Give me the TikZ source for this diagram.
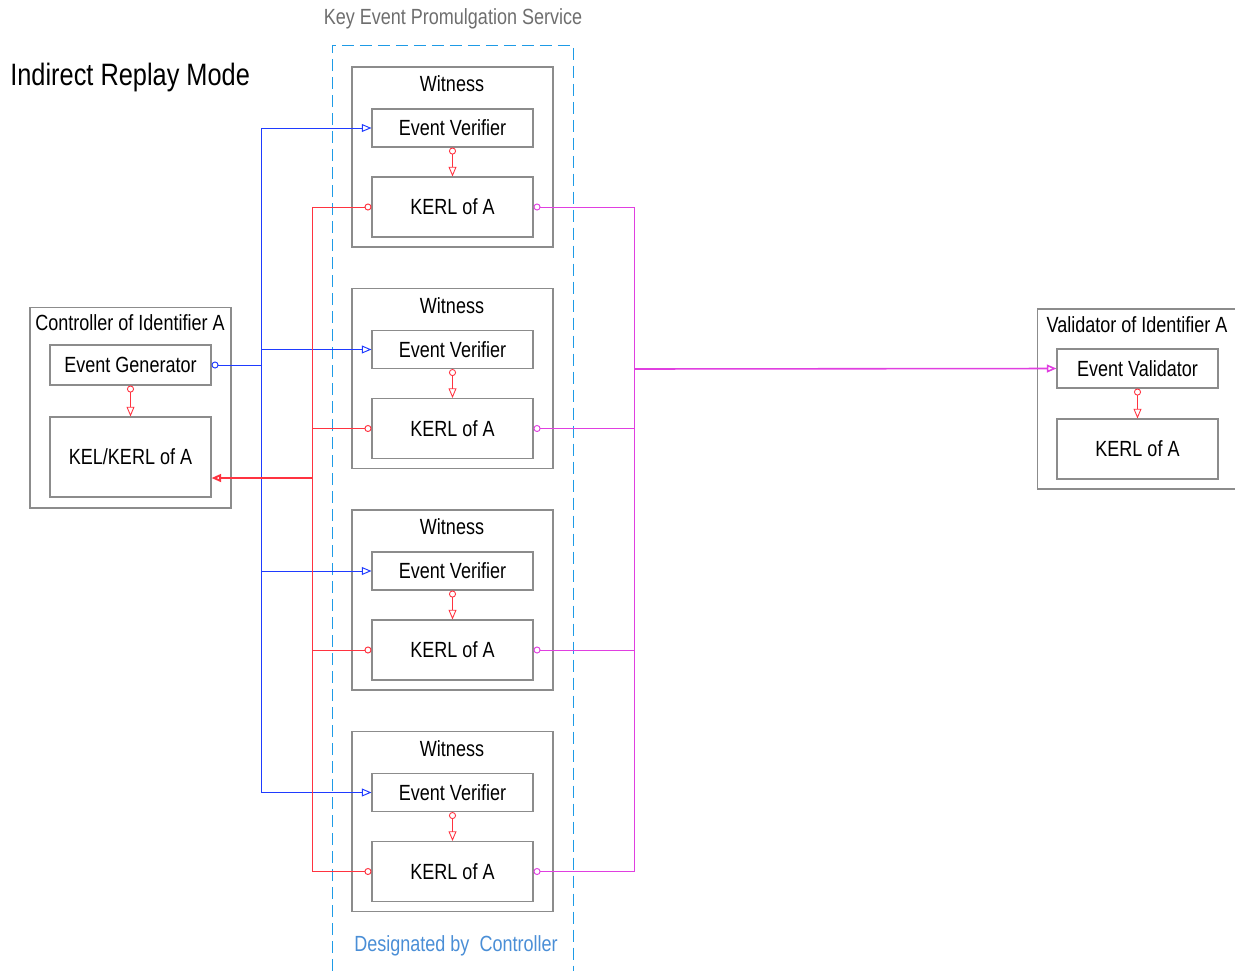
\documentclass[tikz,border=0pt]{standalone}
\usepackage{fontspec}
\setmainfont{Liberation Sans}[FakeStretch=0.82]
\usepackage{xcolor}
\usepackage{tikz}
\usetikzlibrary{calc,positioning,arrows.meta}
\definecolor{ReplayGrey}{HTML}{8C8C8C}
\definecolor{ReplayTitle}{HTML}{6E6E6E}
\definecolor{ReplayBlue}{HTML}{1F3BFF}
\definecolor{ReplayRed}{HTML}{FF3340}
\definecolor{ReplayMagenta}{HTML}{E03FE0}
\definecolor{ReplayDash}{HTML}{1E9BE6}
\definecolor{ReplayNote}{HTML}{4A8ED6}
\tikzset{
  txt/.style={font=\fontsize{12.5}{15}\selectfont,inner sep=0pt},
  outerbox/.style={draw=ReplayGrey,line width=0.6pt,minimum width=4.02cm},
  innerbox/.style={draw=ReplayGrey,line width=0.6pt,minimum width=3.22cm,txt},
  flowline/.style={line width=0.5pt,{Circle[open,length=4pt]}-{Triangle[open,length=5.5pt,width=4.5pt]}},
  blueline/.style={ReplayBlue,line width=0.55pt},
  redline/.style={ReplayRed,line width=0.55pt},
  magline/.style={ReplayMagenta,line width=0.55pt},
  opentip/.style={-{Triangle[open,length=5.5pt,width=4.5pt]}},
  opencirc/.style={{Circle[open,length=4pt]}-},
}

\begin{document}
\begin{tikzpicture}[x=0.02cm,y=-0.02cm]
    \useasboundingbox (0,0) rectangle (1235,971);

    % headings
    \node[anchor=west,font=\fontsize{17.6}{20}\selectfont,inner sep=0pt] (title) at (10,77) {Indirect Replay Mode};
    \node[txt,text=ReplayTitle] (kepstitle) at (453,19) {Key Event Promulgation Service};
    \node[txt,text=ReplayNote] (kepsnote) at (456,946) {Designated by\ \ Controller};

    % promulgation service frame
    \draw[ReplayDash,line width=0.55pt,dash pattern=on 0.24cm off 0.12cm] (332,971) -- (332,45) -- (573,45) -- (573,971);

    % controller
    \node[outerbox,minimum height=4.02cm] (ctrl) at (130.5,407.5) {};
    \node[txt] (ctrllabel) at (130,323) {Controller of Identifier A};
    \node[innerbox,minimum height=0.8cm] (gen) at (130.5,365) {Event Generator};
    \node[innerbox,minimum height=1.6cm] (kel) at (130.5,457) {KEL/KERL of A};
    \draw[flowline,ReplayRed] (gen.south) -- (kel.north);

    % witnesses
    \node[outerbox,minimum height=3.6cm] (wit1) at (452.5,157) {};
    \node[txt] (witlabel1) at (452,84) {Witness};
    \node[innerbox,minimum height=0.76cm] (ver1) at (452.5,128) {Event Verifier};
    \node[innerbox,minimum height=1.2cm] (kerl1) at (452.5,207) {KERL of A};
    \draw[flowline,ReplayRed] (ver1.south) -- (kerl1.north);

    \node[outerbox,minimum height=3.6cm] (wit2) at (452.5,378.5) {};
    \node[txt] (witlabel2) at (452,305.5) {Witness};
    \node[innerbox,minimum height=0.76cm] (ver2) at (452.5,349.5) {Event Verifier};
    \node[innerbox,minimum height=1.2cm] (kerl2) at (452.5,428.5) {KERL of A};
    \draw[flowline,ReplayRed] (ver2.south) -- (kerl2.north);

    \node[outerbox,minimum height=3.6cm] (wit3) at (452.5,600) {};
    \node[txt] (witlabel3) at (452,527) {Witness};
    \node[innerbox,minimum height=0.76cm] (ver3) at (452.5,571) {Event Verifier};
    \node[innerbox,minimum height=1.2cm] (kerl3) at (452.5,650) {KERL of A};
    \draw[flowline,ReplayRed] (ver3.south) -- (kerl3.north);

    \node[outerbox,minimum height=3.6cm] (wit4) at (452.5,821.5) {};
    \node[txt] (witlabel4) at (452,748.5) {Witness};
    \node[innerbox,minimum height=0.76cm] (ver4) at (452.5,792.5) {Event Verifier};
    \node[innerbox,minimum height=1.2cm] (kerl4) at (452.5,871.5) {KERL of A};
    \draw[flowline,ReplayRed] (ver4.south) -- (kerl4.north);

    % validator
    \node[outerbox,minimum height=3.6cm] (vald) at (1137.5,399) {};
    \node[txt] (valdlabel) at (1137,325) {Validator of Identifier A};
    \node[innerbox,minimum height=0.78cm] (evald) at (1137.5,368.5) {Event Validator};
    \node[innerbox,minimum height=1.2cm] (vkerl) at (1137.5,449) {KERL of A};
    \draw[flowline,ReplayRed] (evald.south) -- (vkerl.north);

    % bus points
    \coordinate (bluebus) at (261,365);
    \coordinate (redbus) at (312,478);
    \coordinate (magbus) at (634,369);

    % events out to the witnesses
    \draw[blueline,opencirc] (gen.east) -- (gen.east -| bluebus);
    \draw[blueline] (ver1.west -| bluebus) -- (ver4.west -| bluebus);
    \draw[blueline,opentip] (ver1.west -| bluebus) -- (ver1.west);
    \draw[blueline,opentip] (ver2.west -| bluebus) -- (ver2.west);
    \draw[blueline,opentip] (ver3.west -| bluebus) -- (ver3.west);
    \draw[blueline,opentip] (ver4.west -| bluebus) -- (ver4.west);

    % receipts back to the controller
    \draw[redline,opencirc] (kerl1.west) -- (kerl1.west -| redbus);
    \draw[redline,opencirc] (kerl2.west) -- (kerl2.west -| redbus);
    \draw[redline,opencirc] (kerl3.west) -- (kerl3.west -| redbus);
    \draw[redline,opencirc] (kerl4.west) -- (kerl4.west -| redbus);
    \draw[redline] (kerl1.west -| redbus) -- (kerl4.west -| redbus);
    \draw[redline,line width=1.1pt,opentip] (redbus) -- (redbus -| kel.east);

    % replay to the validator
    \draw[magline,opencirc] (kerl1.east) -- (kerl1.east -| magbus);
    \draw[magline,opencirc] (kerl2.east) -- (kerl2.east -| magbus);
    \draw[magline,opencirc] (kerl3.east) -- (kerl3.east -| magbus);
    \draw[magline,opencirc] (kerl4.east) -- (kerl4.east -| magbus);
    \draw[magline] (kerl1.east -| magbus) -- (kerl4.east -| magbus);
    \draw[magline,line width=0.9pt,opentip] (magbus) -- (evald.west);
  \end{tikzpicture}
\end{document}
